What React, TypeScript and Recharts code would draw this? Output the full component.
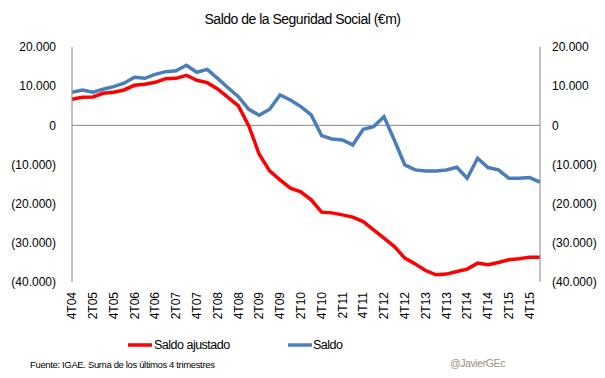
import React from "react";
import { LineChart, Line, XAxis, YAxis, ReferenceLine, Legend } from "recharts";

const quarters = [
  "4T04","1T05","2T05","3T05","4T05","1T06","2T06","3T06","4T06","1T07","2T07","3T07","4T07",
  "1T08","2T08","3T08","4T08","1T09","2T09","3T09","4T09","1T10","2T10","3T10","4T10",
  "1T11","2T11","3T11","4T11","1T12","2T12","3T12","4T12","1T13","2T13","3T13","4T13",
  "1T14","2T14","3T14","4T14","1T15","2T15","3T15","4T15","1T16",
];

const saldoAjustado = [
  6650, 7160, 7240, 8180, 8440, 9030, 10220, 10480, 10990, 11920, 12000, 12780, 11500,
  10900, 9290, 7160, 4950, -150, -7380, -11630, -13930, -16050, -17000, -19030, -22170,
  -22350, -22860, -23440, -24560, -26680, -28800, -30940, -33900, -35430, -37070, -38160, -37980,
  -37320, -36710, -35180, -35610, -35030, -34340, -34080, -33650, -33650,
];

const saldo = [
  8440, 9030, 8440, 9200, 9870, 10740, 12270, 12000, 13030, 13700, 13950, 15330, 13540,
  14300, 12000, 9600, 7330, 4100, 2580, 4100, 7750, 6480, 4780, 2650, -2620,
  -3470, -3720, -5000, -1000, -330, 2220, -3800, -10100, -11380, -11630, -11630, -11380,
  -10700, -13500, -8400, -10780, -11380, -13500, -13500, -13330, -14520,
];

const yTicks = [20000, 10000, 0, -10000, -20000, -30000, -40000];

const data = quarters.map((q, i) => ({ q, ajustado: saldoAjustado[i], saldo: saldo[i] }));

const FONT = "'Liberation Sans', Arial, sans-serif";
const AXIS = "#868686";
const RED = "#FF0000";
const BLUE = "#4A7EBB";

const fmt = (v: number) => {
  if (v === 0) return "0";
  const s = Math.abs(v).toLocaleString("de-DE");
  return v < 0 ? `(${s})` : s;
};

const XTick = (props: any) => {
  const { x, payload } = props;
  const y = 292;
  return (
    <text
      x={x}
      y={y}
      transform={`rotate(-90, ${x}, ${y})`}
      textAnchor="end"
      dy="0.35em"
      fontSize={12}
      fontFamily={FONT}
      fill="#000"
    >
      {payload.value}
    </text>
  );
};

const LegendContent = () => (
  <svg width={605} height={20} style={{ display: "block" }}>
    <line x1={128} y1={10} x2={152} y2={10} stroke={RED} strokeWidth={3.5} />
    <text x={154} y={14} fontSize={12.5} letterSpacing={-0.5} fontFamily={FONT} fill="#000">Saldo ajustado</text>
    <line x1={288} y1={10} x2={312} y2={10} stroke={BLUE} strokeWidth={3.5} />
    <text x={313} y={14} fontSize={12.5} letterSpacing={-0.5} fontFamily={FONT} fill="#000">Saldo</text>
  </svg>
);

export default function App() {
  return (
    <div style={{ position: "absolute", left: 0, top: 0, width: 605, height: 378, background: "#fff" }}>
      <div
        style={{
          position: "absolute",
          left: 0,
          top: 10,
          width: 605,
          textAlign: "center",
          fontFamily: FONT,
          fontSize: 14,
          letterSpacing: -0.5,
          color: "#000",
          lineHeight: "18px",
        }}
      >
        Saldo de la Seguridad Social (€m)
      </div>
      <LineChart
        width={605}
        height={378}
        data={data}
        margin={{ top: 47, right: 0, bottom: 0, left: 0 }}
      >
        <XAxis
          dataKey="q"
          interval={1}
          axisLine={false}
          tickLine={false}
          tick={<XTick />}
          height={76}
        />
        <YAxis
          yAxisId="left"
          domain={[-40000, 20000]}
          ticks={yTicks}
          tickFormatter={fmt}
          width={72}
          axisLine={{ stroke: AXIS }}
          tickLine={false}
          tickSize={0}
          tickMargin={16}
          tick={{ fontSize: 12, fontFamily: FONT, fill: "#000" }}
          allowDataOverflow
        />
        <YAxis
          yAxisId="right"
          orientation="right"
          domain={[-40000, 20000]}
          ticks={yTicks}
          tickFormatter={fmt}
          width={65}
          axisLine={{ stroke: AXIS }}
          tickLine={false}
          tickSize={0}
          tickMargin={12}
          tick={{ fontSize: 12, fontFamily: FONT, fill: "#000", textAnchor: "start" }}
          allowDataOverflow
        />
        <ReferenceLine yAxisId="left" y={0} stroke={AXIS} strokeWidth={1} />
        <Legend
          content={<LegendContent />}
          wrapperStyle={{ position: "absolute", left: 0, top: 335, width: 605, height: 20 }}
        />
        <Line
          yAxisId="left"
          type="linear"
          dataKey="ajustado"
          stroke={RED}
          strokeWidth={3.5}
          dot={false}
          isAnimationActive={false}
        />
        <Line
          yAxisId="left"
          type="linear"
          dataKey="saldo"
          stroke={BLUE}
          strokeWidth={3.5}
          dot={false}
          isAnimationActive={false}
        />
      </LineChart>
      <div
        style={{
          position: "absolute",
          left: 30,
          top: 358,
          fontFamily: FONT,
          fontSize: 9.5,
          letterSpacing: -0.35,
          color: "#000",
          lineHeight: "14px",
          whiteSpace: "nowrap",
        }}
      >
        Fuente: IGAE. Suma de los últimos 4 trimestres
      </div>
      <div
        style={{
          position: "absolute",
          right: 100,
          top: 356,
          fontFamily: FONT,
          fontSize: 10.5,
          letterSpacing: -0.4,
          color: "#9a917c",
          lineHeight: "14px",
          whiteSpace: "nowrap",
        }}
      >
        @JavierGEc
      </div>
    </div>
  );
}
